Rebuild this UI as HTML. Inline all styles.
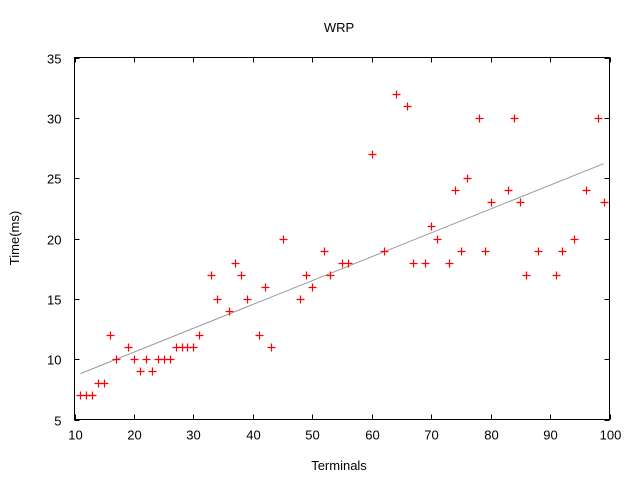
<!DOCTYPE html>
<html><head><meta charset="utf-8"><style>body{margin:0;background:#fff}svg{display:block}text{font-family:"Liberation Sans",sans-serif;font-size:13px;fill:#000}</style></head>
<body>
<svg id="chart" width="640" height="480">
<rect width="640" height="480" fill="#fff"/>
<text x="339" y="32" text-anchor="middle">WRP</text>
<g id="axes"></g>
<g id="marks"></g>
<text x="339" y="470" text-anchor="middle">Terminals</text>
<text transform="translate(19,238) rotate(-90)" text-anchor="middle">Time(ms)</text>
</svg>
<script>
const xs=[11,12,13,14,15,16,17,19,20,21,22,23,24,25,26,27,28,29,30,31,33,34,36,37,38,39,41,42,43,45,48,49,50,52,53,55,56,60,62,64,66,67,69,70,71,73,74,75,76,78,79,80,83,84,85,86,88,91,92,94,96,98,99];
const ys=[7,7,7,8,8,12,10,11,10,9,10,9,10,10,10,11,11,11,11,12,17,15,14,18,17,15,12,16,11,20,15,17,16,19,17,18,18,27,19,32,31,18,18,21,20,18,24,19,25,30,19,23,24,30,23,17,19,17,19,20,24,30,23];
const trendX=[11,99];
const trendY=[8.8,26.2];
const xTicks=[10,20,30,40,50,60,70,80,90,100];
const yTicks=[5,10,15,20,25,30,35];
const L=74.5,R=609.5,T=57.5,B=419.5;
const sx=v=>L+(v-10)/90*(R-L);
const sy=v=>B-(v-5)/30*(B-T);
const NS="http://www.w3.org/2000/svg";
const axes=document.getElementById('axes'),marks=document.getElementById('marks');
function mk(tag,at,parent){const e=document.createElementNS(NS,tag);for(const k in at)e.setAttribute(k,at[k]);parent.appendChild(e);return e;}
const frame=mk('rect',{x:L,y:T,width:R-L,height:B-T,fill:'none',stroke:'#000','stroke-width':1},axes);


xTicks.forEach(v=>{const x=Math.round(sx(v))+0.5;
mk('line',{x1:x,y1:B,x2:x,y2:B-5,stroke:'#000'},axes);
mk('line',{x1:x,y1:T,x2:x,y2:T+5,stroke:'#000'},axes);
const t=mk('text',{x:x,y:B+20,'text-anchor':'middle'},axes);t.textContent=v;

});
yTicks.forEach(v=>{const y=Math.round(sy(v))+0.5;
mk('line',{x1:L,y1:y,x2:L+5,y2:y,stroke:'#000'},axes);
mk('line',{x1:R,y1:y,x2:R-5,y2:y,stroke:'#000'},axes);
const t=mk('text',{x:L-13,y:y+5,'text-anchor':'end'},axes);t.textContent=v;

});
const tl=mk('polyline',{points:trendX.map((x,i)=>sx(x)+','+sy(trendY[i])).join(' '),fill:'none',stroke:'#999','stroke-width':1},marks);


xs.forEach((x,i)=>{const px=Math.round(sx(x))+0.5,py=Math.round(sy(ys[i]))+0.5;
const p=mk('path',{d:`M${px-4},${py}H${px+4}M${px},${py-4}V${py+4}`,stroke:'#f00','stroke-width':1.2,fill:'none'},marks);

});
</script>
</body></html>
